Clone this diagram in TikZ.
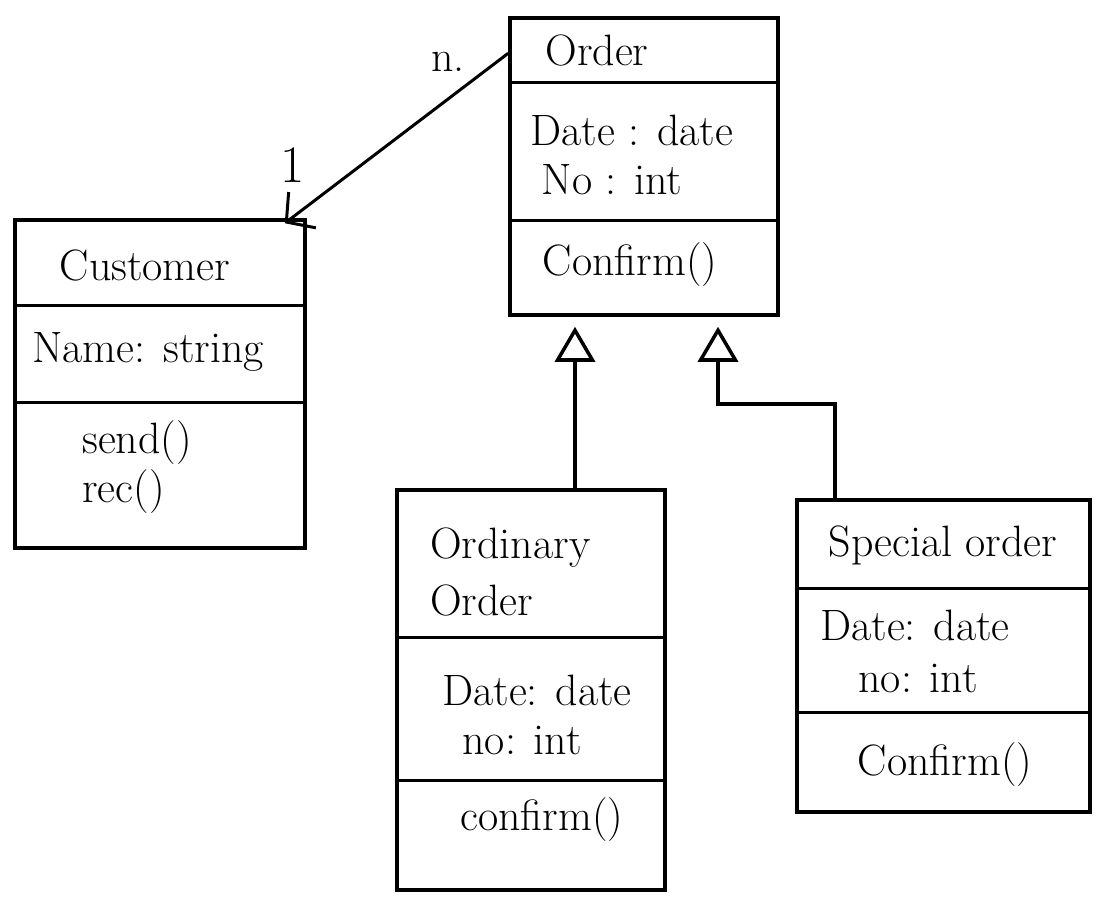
\documentclass[tikz,border=0pt]{standalone}
\usepackage{fontspec}
\usetikzlibrary{arrows.meta,calc,fit}
\begin{document}
\begin{tikzpicture}[x=0.02cm,y=-0.02cm,
  classbox/.style={draw, line width=2pt, inner sep=0pt},
  txt/.style={font=\fontsize{25}{29}\selectfont, inner sep=0pt},
  txtl/.style={txt, anchor=west},
  rule/.style={line width=1.7pt},
  assoc/.style={line width=1.7pt, -{Straight Barb[length=4mm,width=9mm,line width=1.7pt]}},
  gen/.style={line width=2pt, -{Triangle[open,length=7mm,width=8mm,line width=2pt]}}]
\useasboundingbox (0,0) rectangle (1096,904);

% Order
\node[classbox, fit={(510,18) (778,315)}] (order) {};
\draw[rule] (510,82) -- (778,82);
\draw[rule] (510,220) -- (778,220);
\node[txt] (ordername) at (597,50) {Order};
\node[txt] (orderdate) at (632,130) {Date : date};
\node[txt] (orderno) at (612,180) {No : int};
\node[txt] (orderop) at (630,265) {Confirm()};

% Customer
\node[classbox, fit={(15,220) (305,548)}] (cust) {};
\draw[rule] (15,305) -- (305,305);
\draw[rule] (15,402) -- (305,402);
\node[txt] (custname) at (145,265) {Customer};
\node[txt] (custattr) at (148,352) {Name: string};
\node[txtl] (custop1) at (82,443) {send()};
\node[txtl] (custop2) at (82,492) {rec()};

% Ordinary Order
\node[classbox, fit={(397,490) (665,890)}] (ordin) {};
\draw[rule] (397,637) -- (665,637);
\draw[rule] (397,780) -- (665,780);
\node[txtl] (ordinname1) at (430,548) {Ordinary};
\node[txtl] (ordinname2) at (430,600) {Order};
\node[txt] (ordindate) at (537,690) {Date: date};
\node[txt] (ordinno) at (522,740) {no: int};
\node[txt] (ordinop) at (542,820) {confirm()};

% Special order
\node[classbox, fit={(797,500) (1090,812)}] (spec) {};
\draw[rule] (797,588) -- (1090,588);
\draw[rule] (797,712) -- (1090,712);
\node[txt] (specname) at (943,545) {Special order};
\node[txt] (specdate) at (915,625) {Date: date};
\node[txt] (specno) at (918,678) {no: int};
\node[txt] (specop) at (945,765) {Confirm()};

% Association Order -> Customer
\draw[assoc] ([yshift=-0.74cm]order.north west) -- ([xshift=-0.44cm,yshift=-0.1cm]cust.north east);
\node[txt] (mult1) at (448,62) {n.};
\node[txt, font=\fontsize{30}{34}\selectfont] (mult2) at (293,165) {1};

% Generalisations
\draw[gen, shorten >=0.2cm] ([xshift=0.88cm]ordin.north) -- ([xshift=0.88cm]ordin.north |- order.south);
\coordinate (elbow) at (718,404);
\draw[gen, shorten >=0.2cm] ([xshift=-2.17cm]spec.north) |- (elbow) -- (elbow |- order.south);
\end{tikzpicture}
\end{document}
